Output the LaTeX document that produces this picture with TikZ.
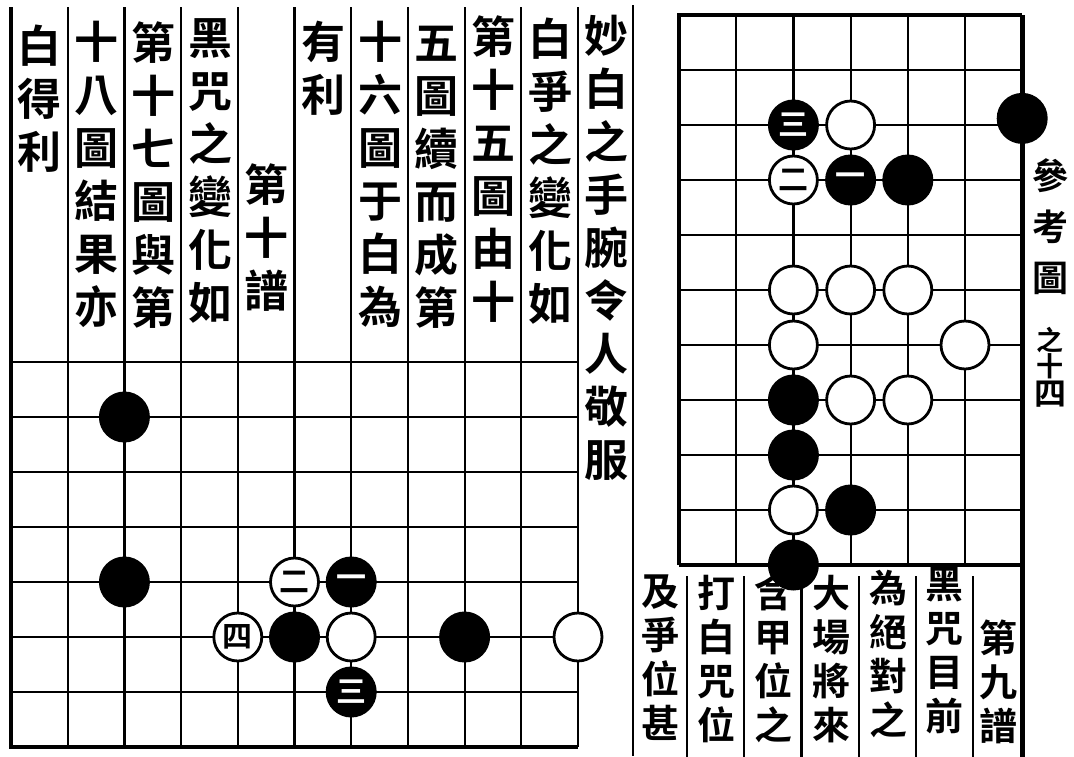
\documentclass[tikz,border=0pt]{standalone}
\usepackage{fontspec}
\newfontfamily\cjk[BoldFont={Noto Sans CJK TC Bold}]{Noto Sans CJK TC}
\usetikzlibrary{positioning}

\begin{document}
\begin{tikzpicture}[x=1pt, y=-1pt,
  gridline/.style={line width=2.2pt},
  edgeline/.style={line width=3.6pt},
  bstone/.style={circle, fill=black, minimum size=51pt, inner sep=0pt, text=white, font=\cjk\bfseries\fontsize{30}{30}\selectfont},
  wstone/.style={circle, draw=black, fill=white, line width=2.8pt, minimum size=48pt, inner sep=0pt, font=\cjk\bfseries\fontsize{30}{30}\selectfont},
  coltext/.style={anchor=north, align=center, inner sep=0pt, font=\cjk\bfseries\fontsize{44}{53}\selectfont},
  colsmall/.style={anchor=north, align=center, inner sep=0pt, font=\cjk\bfseries\fontsize{38}{44}\selectfont}]

\useasboundingbox (0,0) rectangle (1074,756);

% rule between the two pages
\draw[gridline] (633,5) -- (633,756);

% left page: board of the tenth diagram
\begin{scope}[shift={(11pt,-362pt)}, x=56.7pt, y=-55pt]
\foreach \i in {1,...,10} \draw[gridline] (\i,-6.45) -- (\i,7);
\foreach \j in {0,...,6} \draw[gridline] (0,\j) -- (10,\j);
\draw[edgeline] (0,-6.45) -- (0,7) -- (10,7);
\node[bstone] (la) at (2,1) {};
\node[bstone] (lb) at (2,4) {};
\node[wstone] (l2) at (5,4) {二};
\node[bstone] (l1) at (6,4) {一};
\node[wstone] (l4) at (4,5) {四};
\node[bstone] (lc) at (5,5) {};
\node[wstone] (ld) at (6,5) {};
\node[bstone] (l3) at (6,6) {三};
\node[bstone] (le) at (8,5) {};
\node[wstone] (lf) at (10,5) {};
\end{scope}

% left page: text columns, read right to left
\node[coltext] (t10) at (606,15) {妙\\白\\之\\手\\腕\\令\\人\\敬\\服};
\node[coltext] (t9) at (550,18) {白\\爭\\之\\變\\化\\如};
\node[coltext] (t8) at (493,15) {第\\十\\五\\圖\\由\\十};
\node[coltext] (t7) at (436,26) {五\\圖\\續\\而\\成\\第};
\node[coltext] (t6) at (380,21) {十\\六\\圖\\于\\白\\為};
\node[coltext] (t5) at (323,21) {有\\利};
\node[coltext] (t4) at (266,163) {第\\十\\譜};
\node[coltext] (t3) at (210,18) {黑\\咒\\之\\變\\化\\如};
\node[coltext] (t2) at (153,21) {第\\十\\七\\圖\\與\\第};
\node[coltext] (t1) at (96,21) {十\\八\\圖\\結\\果\\亦};
\node[coltext] (t0) at (39,25) {白\\得\\利};

% right page: reference board
\begin{scope}[shift={(679pt,-15pt)}, x=57.2pt, y=-55pt]
\foreach \i in {1,...,5} \draw[gridline] (\i,0) -- (\i,10);
\foreach \j in {1,...,9} \draw[gridline] (0,\j) -- (6,\j);
\draw[edgeline] (0,10) -- (0,0) -- (6,0);
\draw[edgeline] (0,10) -- (6,10);
\draw[line width=5pt] (6,0) -- (6,13.8);
\foreach \i in {0,...,5} \draw[gridline, xshift=8pt] (\i,10.2) -- (\i,13.8);
\node[bstone] (r3) at (2,2) {三};
\node[wstone] (ra) at (3,2) {};
\node[bstone] (rb) at (6,1.88) {};
\node[wstone] (r2) at (2,3) {二};
\node[bstone] (r1) at (3,3) {一};
\node[bstone] (rc) at (4,3) {};
\node[wstone] (rd) at (2,5) {};
\node[wstone] (re) at (3,5) {};
\node[wstone] (rf) at (4,5) {};
\node[wstone] (rg) at (2,6) {};
\node[wstone] (rh) at (5,6) {};
\node[bstone] (ri) at (2,7) {};
\node[wstone] (rj) at (3,7) {};
\node[wstone] (rk) at (4,7) {};
\node[bstone] (rl) at (2,8) {};
\node[wstone] (rm) at (2,9) {};
\node[bstone] (rn) at (3,9) {};
\node[bstone] (ro) at (2,10) {};
\end{scope}

% right page: title beside the board
\node[colsmall, font=\cjk\bfseries\fontsize{36}{51}\selectfont] (s1) at (1050,158) {參\\考\\圖};
\node[colsmall, font=\cjk\bfseries\fontsize{27}{26}\selectfont] (s2) at (1050,327) {之\\十};
\node[colsmall, font=\cjk\bfseries\fontsize{32}{32}\selectfont] (s3) at (1050,381) {四};

% right page: text below the board
\node[colsmall] (u6) at (998,620) {第\\九\\譜};
\node[colsmall] (u5) at (944,567) {黑\\咒\\目\\前};
\node[colsmall] (u4) at (888,570) {為\\絕\\對\\之};
\node[colsmall] (u3) at (831,575) {大\\場\\將\\來};
\node[colsmall] (u2) at (773,575) {含\\甲\\位\\之};
\node[colsmall] (u1) at (716,575) {打\\白\\咒\\位};
\node[colsmall] (u0) at (660,575) {及\\爭\\位\\甚};
\end{tikzpicture}
\end{document}
